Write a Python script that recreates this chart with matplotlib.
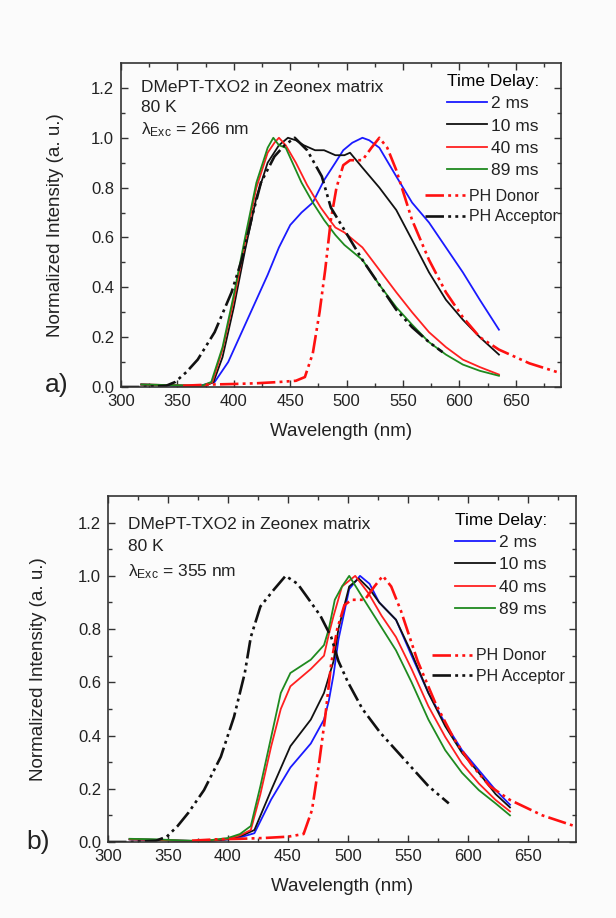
import numpy as np
import matplotlib
matplotlib.use('Agg')
import matplotlib.pyplot as plt

plt.rcParams['font.family'] = ['Liberation Sans', 'DejaVu Sans']
plt.rcParams['mathtext.fontset'] = 'custom'
plt.rcParams['mathtext.rm'] = 'Liberation Sans'
plt.rcParams['mathtext.it'] = 'Liberation Sans:italic'

# ---------- data, panel a) (exc. 266 nm) ----------
wl_a_2 = [318, 330, 350, 370, 383, 395, 405, 412, 420, 430, 440, 450, 460, 470, 480, 490, 497, 505, 514, 520, 529, 544, 558, 573, 588, 603, 618, 635]
in_a_2 = [0.01, 0.008, 0.005, 0.005, 0.02, 0.1, 0.2, 0.27, 0.35, 0.45, 0.56, 0.65, 0.70, 0.74, 0.83, 0.90, 0.95, 0.98, 1.0, 0.99, 0.96, 0.845, 0.74, 0.66, 0.56, 0.46, 0.35, 0.23]

wl_a_10 = [318, 340, 360, 375, 382, 390, 400, 410, 420, 430, 440, 448, 455, 462, 472, 480, 490, 498, 503, 514, 529, 544, 558, 573, 588, 603, 618, 635]
in_a_10 = [0.01, 0.008, 0.005, 0.005, 0.02, 0.12, 0.32, 0.55, 0.76, 0.9, 0.97, 1.0, 0.99, 0.97, 0.95, 0.95, 0.93, 0.93, 0.94, 0.88, 0.80, 0.71, 0.59, 0.46, 0.35, 0.27, 0.20, 0.13]

wl_a_40 = [318, 340, 360, 375, 381, 390, 400, 410, 420, 430, 436, 440, 446, 455, 465, 477, 485, 490, 498, 514, 529, 544, 558, 573, 588, 603, 618, 635]
in_a_40 = [0.01, 0.008, 0.005, 0.005, 0.02, 0.15, 0.35, 0.58, 0.8, 0.94, 0.98, 1.0, 0.97, 0.9, 0.81, 0.72, 0.67, 0.64, 0.62, 0.56, 0.47, 0.38, 0.30, 0.22, 0.16, 0.11, 0.08, 0.05]

wl_a_89 = [318, 340, 360, 372, 380, 390, 400, 410, 420, 430, 435, 440, 446, 452, 460, 470, 480, 490, 498, 514, 529, 544, 558, 573, 588, 603, 618, 635]
in_a_89 = [0.01, 0.008, 0.006, 0.006, 0.02, 0.16, 0.37, 0.6, 0.82, 0.96, 1.0, 0.97, 0.96, 0.9, 0.82, 0.74, 0.67, 0.61, 0.57, 0.51, 0.41, 0.32, 0.25, 0.18, 0.13, 0.09, 0.065, 0.045]

wl_a_don = [355, 380, 400, 420, 440, 455, 463, 470, 476, 481, 486, 491, 497, 503, 514, 522, 529, 536, 544, 558, 573, 588, 603, 618, 635, 662, 690]
in_a_don = [0.005, 0.01, 0.012, 0.015, 0.02, 0.025, 0.04, 0.135, 0.3, 0.47, 0.67, 0.80, 0.89, 0.91, 0.91, 0.96, 1.0, 0.96, 0.87, 0.67, 0.51, 0.38, 0.28, 0.20, 0.15, 0.095, 0.055]

wl_a_acc = [300, 320, 340, 348, 358, 368, 383, 398, 407, 416, 424, 436, 445, 454, 465, 478, 486, 498, 514, 529, 544, 558, 573, 585]
in_a_acc = [0.0, 0.0, 0.005, 0.02, 0.06, 0.11, 0.22, 0.38, 0.51, 0.68, 0.82, 0.925, 0.97, 1.0, 0.95, 0.845, 0.72, 0.63, 0.51, 0.41, 0.31, 0.24, 0.18, 0.14]

# ---------- data, panel b) (exc. 355 nm) ----------
wl_b_2 = [318, 340, 360, 380, 400, 412, 422, 436, 452, 469, 480, 484, 488, 492, 501, 510, 518, 526, 540, 553, 567, 581, 595, 609, 623, 635]
in_b_2 = [0.01, 0.008, 0.005, 0.003, 0.01, 0.02, 0.033, 0.16, 0.28, 0.37, 0.46, 0.53, 0.63, 0.76, 0.95, 1.0, 0.97, 0.90, 0.835, 0.70, 0.56, 0.445, 0.345, 0.27, 0.195, 0.14]

wl_b_10 = [318, 340, 360, 380, 400, 412, 422, 436, 452, 469, 480, 488, 492, 501, 509, 518, 526, 540, 553, 567, 581, 595, 609, 623, 635]
in_b_10 = [0.01, 0.008, 0.005, 0.003, 0.01, 0.025, 0.045, 0.195, 0.36, 0.46, 0.56, 0.68, 0.8, 0.96, 0.99, 0.95, 0.90, 0.835, 0.71, 0.56, 0.435, 0.335, 0.26, 0.18, 0.13]

wl_b_40 = [318, 340, 360, 380, 400, 410, 419, 427, 436, 444, 452, 469, 480, 484, 488, 495, 506, 517, 528, 540, 553, 567, 581, 595, 609, 623, 635]
in_b_40 = [0.01, 0.008, 0.005, 0.003, 0.012, 0.025, 0.045, 0.18, 0.36, 0.50, 0.585, 0.65, 0.70, 0.78, 0.85, 0.96, 1.0, 0.935, 0.85, 0.77, 0.65, 0.51, 0.395, 0.295, 0.22, 0.158, 0.115]

wl_b_89 = [318, 340, 360, 380, 400, 410, 419, 427, 436, 444, 452, 469, 480, 484, 489, 495, 501, 512, 526, 540, 553, 567, 581, 595, 609, 623, 635]
in_b_89 = [0.012, 0.01, 0.006, 0.004, 0.015, 0.03, 0.06, 0.21, 0.395, 0.56, 0.635, 0.685, 0.74, 0.80, 0.91, 0.96, 1.0, 0.92, 0.82, 0.72, 0.60, 0.46, 0.345, 0.26, 0.195, 0.145, 0.10]

wl_b_don = [370, 390, 410, 430, 450, 463, 470, 476, 481, 486, 491, 497, 503, 514, 522, 529, 536, 544, 558, 573, 588, 603, 618, 635, 662, 690]
in_b_don = [0.005, 0.01, 0.012, 0.015, 0.02, 0.03, 0.12, 0.3, 0.47, 0.67, 0.80, 0.89, 0.91, 0.91, 0.96, 1.0, 0.96, 0.87, 0.68, 0.52, 0.39, 0.29, 0.21, 0.158, 0.1, 0.058]

wl_b_acc = [300, 320, 340, 349, 358, 367, 380, 394, 405, 414, 419, 427, 438, 448, 458, 466, 477, 486, 492, 500, 512, 527, 540, 553, 567, 584]
in_b_acc = [0.0, 0.0, 0.005, 0.02, 0.06, 0.11, 0.195, 0.32, 0.47, 0.635, 0.77, 0.885, 0.947, 1.0, 0.97, 0.92, 0.85, 0.77, 0.68, 0.60, 0.50, 0.41, 0.345, 0.28, 0.21, 0.145]

delay_labels = ['2 ms', '10 ms', '40 ms', '89 ms']
delay_colors = ['#1a1aff', '#111111', '#ff2020', '#1f8a1f']
ph_labels = ['PH Donor', 'PH Acceptor']
ph_colors = ['#ff1010', '#111111']
exc_labels = ['266 nm', '355 nm']

panels = [
    dict(series=[(wl_a_2, in_a_2), (wl_a_10, in_a_10), (wl_a_40, in_a_40), (wl_a_89, in_a_89)],
         ph=[(wl_a_don, in_a_don), (wl_a_acc, in_a_acc)],
         rect=[121, 63, 561, 387], tag='a)', tagpos=(57, 385), ylab_x=64,
         txt_y=(0.923, 0.864, 0.793), leg1=(0.741, 0.965), leg2=(0.691, 0.612)),
    dict(series=[(wl_b_2, in_b_2), (wl_b_10, in_b_10), (wl_b_40, in_b_40), (wl_b_89, in_b_89)],
         ph=[(wl_b_don, in_b_don), (wl_b_acc, in_b_acc)],
         rect=[108, 496, 576, 842], tag='b)', tagpos=(38, 842), ylab_x=47,
         txt_y=(0.919, 0.853, 0.780), leg1=(0.741, 0.95), leg2=(0.692, 0.56)),
]

W, H = 616, 918
bg = '#fbfbfb'
txtc = '#222222'
fig = plt.figure(figsize=(W / 100, H / 100), dpi=100, facecolor=bg)
dashdotdot = (0, (7, 1.6, 1.1, 1.6, 1.1, 1.6))

for k, p in enumerate(panels):
    x0, y0, x1, y1 = p['rect']
    ax = fig.add_axes([x0 / W, 1 - y1 / H, (x1 - x0) / W, (y1 - y0) / H], facecolor=bg)
    wpx, hpx = x1 - x0, y1 - y0

    lines = []
    for (wl, it), col, lab in zip(p['series'], delay_colors, delay_labels):
        l, = ax.plot(wl, it, color=col, lw=1.3, label=lab)
        lines.append(l)
    ph_lines = []
    for (wl, it), col, lab in zip(p['ph'], ph_colors, ph_labels):
        l, = ax.plot(wl, it, color=col, lw=1.9, ls=dashdotdot, label=lab)
        ph_lines.append(l)

    ax.set_xlim(300, 690)
    ax.set_ylim(0, 1.3)
    ax.set_xticks(np.arange(300, 651, 50))
    ax.set_xticks(np.arange(300, 690, 25), minor=True)
    ax.set_yticks(np.arange(0, 1.21, 0.2))
    ax.set_yticks(np.arange(0, 1.3, 0.1), minor=True)
    ax.set_yticklabels(['%.1f' % v for v in np.arange(0, 1.21, 0.2)])
    ax.tick_params(which='both', direction='in', top=True, right=True, color='#333333',
                   labelsize=12, labelcolor=txtc, width=1.0)
    ax.tick_params(which='major', length=5, pad=5)
    ax.tick_params(which='minor', length=3)
    for s in ax.spines.values():
        s.set_linewidth(1.2)
        s.set_color('#333333')

    ax.set_xlabel('Wavelength (nm)', fontsize=13.5, color=txtc)
    ax.set_ylabel('Normalized Intensity (a. u.)', fontsize=13.5, color=txtc)
    ax.xaxis.set_label_coords(0.5, -36 / hpx)
    ax.yaxis.set_label_coords((p['ylab_x'] - x0) / wpx, 0.5)

    tx = 20 / wpx
    ty = p['txt_y']
    ax.text(tx, ty[0], 'DMePT-TXO2 in Zeonex matrix', transform=ax.transAxes,
            fontsize=12.5, va='center', color=txtc)
    ax.text(tx, ty[1], '80 K', transform=ax.transAxes, fontsize=12.5, va='center', color=txtc)
    ax.text(tx, ty[2], r'λ$_{\mathrm{Exc}}$ = ' + exc_labels[k], transform=ax.transAxes,
            fontsize=12.5, va='center', color=txtc)

    leg1 = ax.legend(handles=lines, title='Time Delay:', loc='upper left',
                     bbox_to_anchor=p['leg1'], frameon=False, fontsize=12.5,
                     title_fontsize=12.5, alignment='left', borderpad=0, borderaxespad=0,
                     handlelength=2.3, handletextpad=0.25, labelspacing=0.4)
    for t in leg1.get_texts():
        t.set_color(txtc)
    ax.add_artist(leg1)
    leg2 = ax.legend(handles=ph_lines, loc='upper left', bbox_to_anchor=p['leg2'],
                     frameon=False, fontsize=11.5, borderpad=0, borderaxespad=0,
                     handlelength=2.5, handletextpad=0.25, labelspacing=0.35)
    for t in leg2.get_texts():
        t.set_color(txtc)

    fig.text(p['tagpos'][0] / W, 1 - p['tagpos'][1] / H, p['tag'], fontsize=19,
             ha='center', va='center', color=txtc)

fig.savefig('out.png', dpi=100, facecolor=bg)
